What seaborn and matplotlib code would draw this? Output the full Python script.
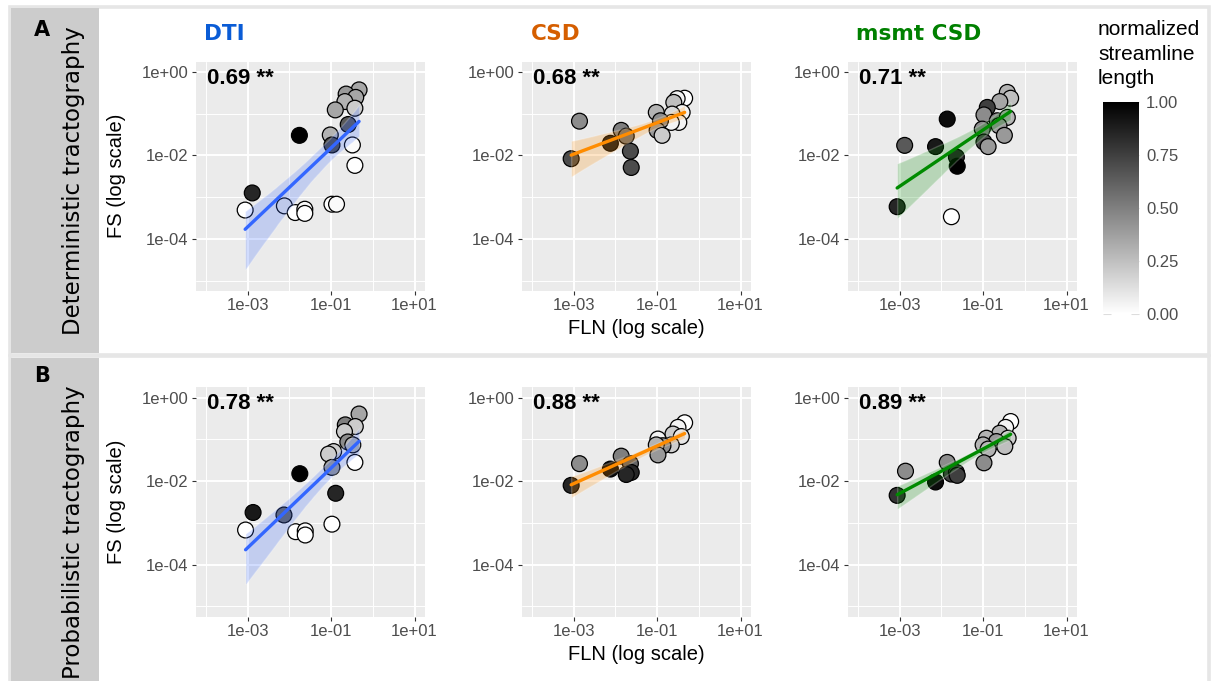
import numpy as np
import matplotlib
matplotlib.use("Agg")
import matplotlib.pyplot as plt
import seaborn as sns
from matplotlib.colors import LinearSegmentedColormap, Normalize
from matplotlib.cm import ScalarMappable
from matplotlib.patches import Rectangle

# ---------------- data (log10 values) ----------------
det_dti_fln = [-0.33, -0.64, -0.41, -0.67, -0.90, -0.43, -0.59, -1.76, -1.02, -0.98,
               -0.49, -0.43, -2.89, -3.06, -2.12, -1.86, -1.63, -1.63, -0.98, -0.87]
det_dti_fs = [-0.43, -0.53, -0.61, -0.71, -0.91, -0.87, -1.26, -1.52, -1.51, -1.75,
              -1.75, -2.24, -2.90, -3.31, -3.21, -3.37, -3.29, -3.39, -3.17, -3.17]
det_dti_len = [0.35, 0.40, 0.35, 0.30, 0.35, 0.20, 0.65, 1.00, 0.30, 0.70,
               0.02, 0.00, 0.85, 0.00, 0.10, 0.00, 0.02, 0.00, 0.00, 0.02]

det_csd_fln = [-0.34, -0.52, -0.60, -0.40, -1.02, -0.64, -0.48, -0.66, -0.92, -1.00,
               -0.88, -2.86, -1.86, -2.12, -1.74, -1.64, -1.62, -3.06]
det_csd_fs = [-0.63, -0.64, -0.73, -0.97, -0.97, -1.01, -1.21, -1.21, -1.17, -1.40,
              -1.52, -1.18, -1.40, -1.71, -1.54, -1.90, -2.29, -2.08]
det_csd_len = [0.00, 0.05, 0.25, 0.05, 0.30, 0.15, 0.05, 0.05, 0.45, 0.40,
               0.20, 0.45, 0.50, 0.90, 0.55, 0.70, 0.70, 0.70]

det_msmt_fln = [-0.42, -0.34, -0.60, -0.90, -0.98, -0.66, -0.42, -0.62, -1.02, -0.49,
                -0.98, -0.88, -1.86, -2.88, -2.14, -1.64, -1.62, -3.06, -1.76]
det_msmt_fs = [-0.49, -0.63, -0.71, -0.85, -1.03, -1.17, -1.09, -1.29, -1.37, -1.52,
               -1.68, -1.79, -1.13, -1.76, -1.79, -2.04, -2.26, -3.23, -3.47]
det_msmt_len = [0.30, 0.25, 0.35, 0.75, 0.45, 0.45, 0.30, 0.40, 0.45, 0.40,
                0.70, 0.40, 0.95, 0.65, 0.90, 0.85, 1.00, 0.85, 0.00]

prob_dti_fln = [-0.33, -0.66, -0.42, -0.68, -0.60, -0.48, -0.94, -1.06, -0.98, -0.43,
                -1.75, -0.89, -2.87, -2.13, -3.05, -1.85, -1.62, -1.62, -0.98]
prob_dti_fs = [-0.39, -0.65, -0.69, -0.81, -1.06, -1.13, -1.29, -1.35, -1.67, -1.55,
               -1.82, -2.29, -2.75, -2.81, -3.17, -3.21, -3.19, -3.29, -3.03]
prob_dti_len = [0.35, 0.50, 0.20, 0.20, 0.45, 0.30, 0.20, 0.20, 0.40, 0.00,
                1.00, 0.85, 0.90, 0.60, 0.00, 0.00, 0.02, 0.00, 0.00]

prob_csd_fln = [-0.34, -0.50, -0.62, -0.42, -0.98, -0.66, -0.86, -1.02, -0.98, -2.86,
                -1.86, -1.64, -2.12, -1.62, -1.74, -3.06]
prob_csd_fs = [-0.60, -0.71, -0.87, -0.93, -0.99, -1.13, -1.15, -1.13, -1.37, -1.58,
               -1.40, -1.58, -1.71, -1.79, -1.84, -2.10]
prob_csd_len = [0.00, 0.05, 0.20, 0.10, 0.05, 0.20, 0.45, 0.30, 0.40, 0.45,
                0.50, 0.60, 0.95, 0.85, 0.85, 0.85]

prob_msmt_fln = [-0.34, -0.46, -0.60, -0.40, -0.92, -0.68, -1.00, -0.48, -0.88, -0.98,
                 -2.86, -1.86, -1.76, -1.64, -1.62, -2.14, -3.06]
prob_msmt_fs = [-0.57, -0.71, -0.85, -0.97, -0.97, -1.05, -1.13, -1.17, -1.23, -1.56,
                -1.76, -1.55, -1.83, -1.79, -1.86, -2.02, -2.34]
prob_msmt_len = [0.00, 0.05, 0.30, 0.20, 0.30, 0.40, 0.30, 0.25, 0.30, 0.45,
                 0.45, 0.45, 0.75, 0.75, 0.75, 0.95, 0.80]

methods = ["DTI", "CSD", "msmt CSD"]
rows = ["Deterministic tractography", "Probabilistic tractography"]
row_letters = ["A", "B"]
correlations = [["0.69 **", "0.68 **", "0.71 **"],
                ["0.78 **", "0.88 **", "0.89 **"]]
x_tick_vals = [-3, -1, 1]
x_tick_labels = ["1e-03", "1e-01", "1e+01"]
y_tick_vals = [0, -2, -4]
y_tick_labels = ["1e+00", "1e-02", "1e-04"]
cbar_ticks = [0.0, 0.25, 0.5, 0.75, 1.0]
cbar_labels = ["0.00", "0.25", "0.50", "0.75", "1.00"]

panel_data = [
    [(det_dti_fln, det_dti_fs, det_dti_len),
     (det_csd_fln, det_csd_fs, det_csd_len),
     (det_msmt_fln, det_msmt_fs, det_msmt_len)],
    [(prob_dti_fln, prob_dti_fs, prob_dti_len),
     (prob_csd_fln, prob_csd_fs, prob_csd_len),
     (prob_msmt_fln, prob_msmt_fs, prob_msmt_len)],
]

title_colors = ["#0A5CD6", "#D55E00", "#008000"]
line_colors = ["#3366FF", "#FF8C00", "#008B00"]

# ---------------- style ----------------
sns.set_theme(style="darkgrid")
plt.rcParams["font.family"] = ["Liberation Sans", "DejaVu Sans"]

W, H = 1211, 681
fig = plt.figure(figsize=(W / 100, H / 100), dpi=100)
fig.patch.set_facecolor("white")


def px_axes(x0, y0, w, h, **kw):
    return fig.add_axes([x0 / W, 1 - (y0 + h) / H, w / W, h / H], **kw)


# background frames and strips
bg = px_axes(0, 0, W, H, zorder=-10)
bg.set_xlim(0, W)
bg.set_ylim(H, 0)
bg.axis("off")
for (y0, h) in [(6.5, 348), (356, 330)]:
    bg.add_patch(Rectangle((9.5, y0), 1199, h, facecolor="white",
                           edgecolor="#E6E6E6", lw=2.6))
bg.add_patch(Rectangle((11, 8), 88, 344.5, facecolor="#CCCCCC", edgecolor="none"))
bg.add_patch(Rectangle((11, 357.5), 88, 330, facecolor="#CCCCCC", edgecolor="none"))

cmap = LinearSegmentedColormap.from_list("wb", ["white", "black"])
norm = Normalize(0, 1)

col_x0 = [195.5, 521.5, 847.5]
row_y0 = [61.5, 387.3]
pw, ph = 229.5, 229.5

for r in range(2):
    for c in range(3):
        ax = px_axes(col_x0[c], row_y0[r], pw, ph)
        xs, ys, ls = panel_data[r][c]
        sns.scatterplot(x=xs, y=ys, hue=ls, palette=cmap, hue_norm=(0, 1),
                        s=130, edgecolor="black", linewidth=0.9,
                        legend=False, ax=ax, zorder=3)
        sns.regplot(x=np.array(xs), y=np.array(ys), scatter=False, ci=85,
                    n_boot=2000, seed=1, color=line_colors[c],
                    line_kws={"lw": 2.4, "zorder": 5}, ax=ax)
        for coll in ax.collections[1:]:
            coll.set_alpha(0.22)
            coll.set_zorder(4)
        ax.set_facecolor("#EBEBEB")
        ax.set_xlim(-4.25, 1.25)
        ax.set_ylim(-5.25, 0.25)
        ax.set_xticks(x_tick_vals)
        ax.set_xticklabels(x_tick_labels)
        ax.set_yticks(y_tick_vals)
        ax.set_yticklabels(y_tick_labels)
        ax.set_xticks([-4, -2, 0], minor=True)
        ax.set_yticks([-5, -3, -1], minor=True)
        ax.grid(which="major", color="white", lw=1.4)
        ax.grid(which="minor", color="white", lw=0.7)
        ax.set_axisbelow(True)
        for s in ax.spines.values():
            s.set_visible(False)
        ax.tick_params(which="minor", length=0)
        ax.tick_params(which="major", length=3.2, width=0.8, color="#333333",
                       labelsize=12, labelcolor="#4D4D4D", pad=2,
                       bottom=True, left=True)
        ax.set_xlabel("")
        ax.set_ylabel("")
        if c == 0:
            ax.set_ylabel("FS (log scale)", fontsize=14.5, color="black")
            ax.yaxis.set_label_coords(-0.345, 0.5)
            ax.yaxis.label.set_verticalalignment("center")
        if c == 1:
            ax.set_xlabel("FLN (log scale)", fontsize=14.5, color="black")
            ax.xaxis.set_label_coords(0.5, -0.165)
            ax.xaxis.label.set_verticalalignment("center")
        ax.text(0.05, 0.928, correlations[r][c], transform=ax.transAxes,
                fontsize=16, fontweight="bold", ha="left", va="center",
                color="black", zorder=6)
        if r == 0:
            fig.text((col_x0[c] + 9) / W, 1 - 34 / H, methods[c],
                     fontsize=15.5, fontweight="bold", color=title_colors[c],
                     family="DejaVu Sans", ha="left", va="center")

# strip texts
for r, (ycen, lcen) in enumerate([(181, 30), (532, 376)]):
    fig.text(74 / W, 1 - ycen / H, rows[r], rotation=90, fontsize=16.5,
             family="DejaVu Sans", ha="center", va="center", color="black")
    fig.text(42 / W, 1 - lcen / H, row_letters[r], fontsize=15,
             fontweight="bold", family="DejaVu Sans", ha="center",
             va="center", color="black")

# colorbar legend
cax = px_axes(1103, 102, 36, 212)
cb = fig.colorbar(ScalarMappable(norm=norm, cmap=cmap), cax=cax)
cb.outline.set_visible(False)
cb.set_ticks(cbar_ticks)
cb.set_ticklabels(cbar_labels)
cax.yaxis.set_ticks_position("both")
cax.tick_params(direction="in", length=6, width=0.8, color="#DDDDDD",
                labelsize=12, labelcolor="#4D4D4D", pad=5,
                left=True, right=True, labelleft=False, labelright=True)
cax.grid(False)
fig.text(1098 / W, 1 - 20 / H, "normalized\nstreamline\nlength", fontsize=15,
         ha="left", va="top", linespacing=1.38, color="black")

fig.savefig("out.png", dpi=100)
